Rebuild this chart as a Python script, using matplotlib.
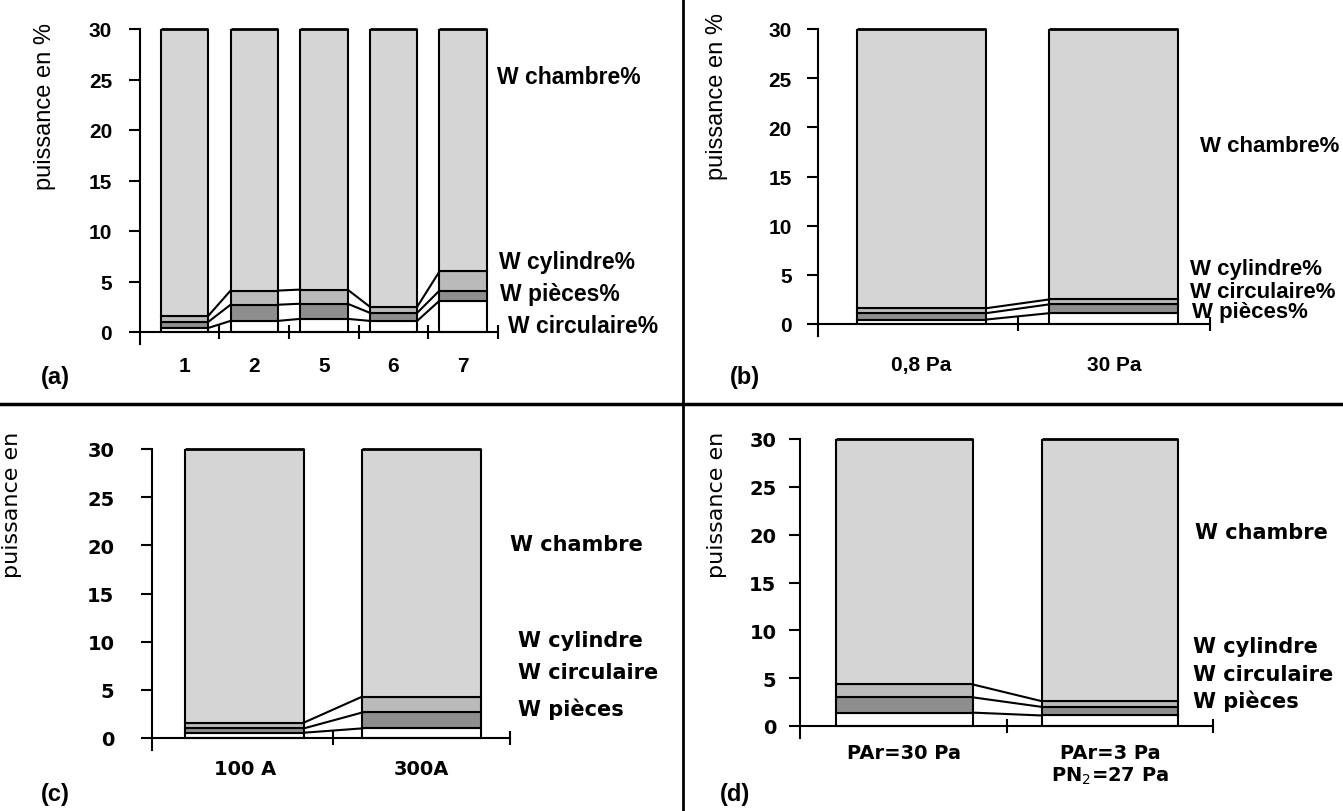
import numpy as np
import matplotlib
matplotlib.use("Agg")
import matplotlib.pyplot as plt
from matplotlib.lines import Line2D

plt.rcParams['font.family'] = ['Liberation Sans', 'DejaVu Sans']

W, H = 1343, 812

# (a) runs 1..7 ; stack from bottom: circulaire, pieces, cylindre, chambre
cats_a = ['1', '2', '5', '6', '7']
circ_a = [0.4, 1.1, 1.3, 1.1, 3.1]
pieces_a = [0.6, 1.6, 1.5, 0.8, 1.0]
cyl_a = [0.6, 1.4, 1.4, 0.6, 1.9]
chambre_a = [98.4, 95.9, 95.8, 97.5, 94.0]

# (b) pressure ; stack from bottom: pieces, circulaire, cylindre, chambre
cats_b = ['0,8 Pa', '30 Pa']
pieces_b = [0.45, 1.1]
circ_b = [0.65, 0.9]
cyl_b = [0.5, 0.5]
chambre_b = [98.4, 97.5]

# (c) current
cats_c = ['100 A', '300A']
pieces_c = [0.55, 1.0]
circ_c = [0.45, 1.65]
cyl_c = [0.6, 1.65]
chambre_c = [98.4, 95.7]

# (d) gas
cats_d = ['PAr=30 Pa', 'PAr=3 Pa\nPN$_2$=27 Pa']
pieces_d = [1.4, 1.1]
circ_d = [1.6, 0.9]
cyl_d = [1.35, 0.6]
chambre_d = [95.65, 97.4]

fills = ['white', '#8e8e8e', '#bababa', '#d5d5d5']

fig = plt.figure(figsize=(W / 100, H / 100), dpi=100)


def ftext(x, y, s, **kw):
    return fig.text(x / W, 1 - y / H, s, **kw)


def draw_panel(x0, x1, ytop, ybot, xlo, cats, segs, bar_w, fam, ypad, ysize, xpad, xsize):
    ppu = (ybot - ytop) / 30.0
    ext = 12
    ax = fig.add_axes([x0 / W, 1 - (ybot + ext) / H, (x1 - x0) / W, (ybot + ext - ytop) / H])
    x = np.arange(len(cats))
    bottom = np.zeros(len(cats))
    levels = []
    for vals, col in zip(segs, fills):
        ax.bar(x, vals, bar_w, bottom=bottom, color=col, edgecolor='black', linewidth=1.5, zorder=2)
        bottom = bottom + np.array(vals)
        levels.append(bottom.copy())
    # lines joining the stacked segments
    for lev in levels[:-1]:
        for i in range(len(x) - 1):
            ax.plot([x[i] + bar_w / 2, x[i + 1] - bar_w / 2], [lev[i], lev[i + 1]],
                    color='black', lw=1.5, zorder=3)
    ax.hlines([30] * len(x), x - bar_w / 2, x + bar_w / 2, color='black', lw=2,
              clip_on=False, zorder=4)

    ax.set_xlim(xlo, len(cats) - 0.5)
    ax.set_ylim(-ext / ppu, 30)
    for s in ['top', 'right']:
        ax.spines[s].set_visible(False)
    ax.spines['bottom'].set_position(('data', 0))
    ax.spines['bottom'].set_linewidth(1.5)
    ax.spines['left'].set_linewidth(1.5)
    ax.patch.set_alpha(0)

    ax.set_yticks(range(0, 31, 5))
    ax.tick_params(axis='y', direction='out', length=8, width=1.5, pad=ypad, labelsize=ysize)
    ax.set_xticks(x, cats)
    ax.set_xticks(np.arange(0.5, len(cats)), minor=True)
    ax.tick_params(axis='x', which='major', length=0, pad=xpad, labelsize=xsize)
    ax.tick_params(axis='x', which='minor', direction='inout', length=10, width=1.5)
    for lab in ax.get_yticklabels() + ax.get_xticklabels():
        lab.set_fontfamily(fam)
        lab.set_fontweight('bold')
    return ax


draw_panel(140, 498, 30, 333, -0.64, cats_a, [circ_a, pieces_a, cyl_a, chambre_a],
           0.68, 'Liberation Sans', 12, 15, 17, 15)
draw_panel(818, 1210, 30, 325, -0.538, cats_b, [pieces_b, circ_b, cyl_b, chambre_b],
           0.67, 'Liberation Sans', 11, 15, 22, 15)
draw_panel(152, 510, 450, 739, -0.524, cats_c, [pieces_c, circ_c, cyl_c, chambre_c],
           0.67, 'DejaVu Sans', 19, 14, 15, 14)
draw_panel(800, 1213, 440, 727, -0.505, cats_d, [pieces_d, circ_d, cyl_d, chambre_d],
           0.665, 'DejaVu Sans', 9, 14, 12, 14)

# series labels
lab_a = dict(fontsize=16.5, fontweight='bold', va='center', ha='left', family='Liberation Sans')
ftext(497, 77, 'W chambre%', **lab_a)
ftext(499, 263, 'W cylindre%', **lab_a)
ftext(500, 295, 'W pièces%', **lab_a)
ftext(508, 327, 'W circulaire%', **lab_a)

lab_b = dict(fontsize=16, fontweight='bold', va='center', ha='left', family='Liberation Sans')
ftext(1200, 147, 'W chambre%', **lab_b)
ftext(1190, 270, 'W cylindre%', **lab_b)
ftext(1190, 292, 'W circulaire%', **lab_b)
ftext(1192, 313, 'W pièces%', **lab_b)

lab_c = dict(fontsize=15, fontweight='bold', va='center', ha='left', family='DejaVu Sans')
ftext(510, 545, 'W chambre', **lab_c)
ftext(518, 641, 'W cylindre', **lab_c)
ftext(518, 673, 'W circulaire', **lab_c)
ftext(518, 709, 'W pièces', **lab_c)

ftext(1195, 533, 'W chambre', **lab_c)
ftext(1193, 647, 'W cylindre', **lab_c)
ftext(1193, 675, 'W circulaire', **lab_c)
ftext(1193, 701, 'W pièces', **lab_c)

# axis titles
ftext(45, 107, 'puissance en %', fontsize=17, rotation=90, va='center', ha='center')
ftext(717, 97, 'puissance en %', fontsize=17, rotation=90, va='center', ha='center')
ftext(12, 505, 'puissance en', fontsize=16, rotation=90, va='center', ha='center', family='DejaVu Sans')
ftext(717, 505, 'puissance en', fontsize=16, rotation=90, va='center', ha='center', family='DejaVu Sans')

# panel letters
for px, py, s in [(55, 378, '(a)'), (745, 378, '(b)'), (55, 795, '(c)'), (735, 795, '(d)')]:
    ftext(px, py, s, fontsize=17, fontweight='bold', va='center', ha='center')

# separators
fig.add_artist(Line2D([0, 1], [1 - 405 / H] * 2, color='black', lw=2.5, transform=fig.transFigure))
fig.add_artist(Line2D([683 / W] * 2, [0, 1], color='black', lw=2, transform=fig.transFigure))

fig.savefig('out.png', dpi=100)
